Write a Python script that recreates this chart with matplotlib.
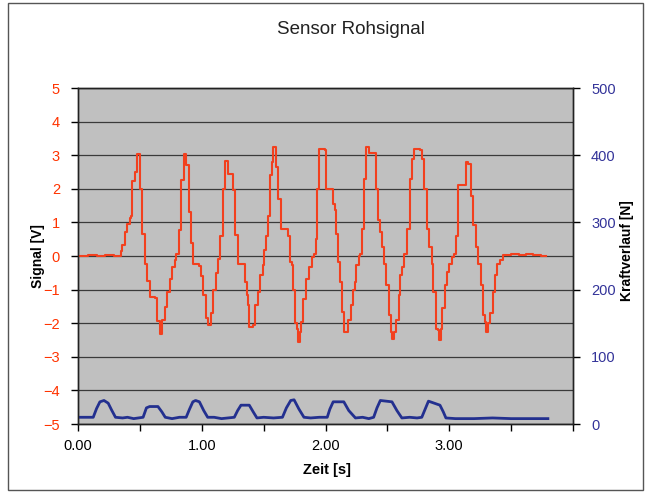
import matplotlib
matplotlib.use("Agg")
import matplotlib.pyplot as plt
from matplotlib.patches import Rectangle
from matplotlib.ticker import FixedLocator

plt.rcParams['font.family'] = ['Liberation Sans', 'DejaVu Sans']

# === Rohsignal: Zeit [s] -> Signal [V] (Stufen, Wert gilt ab dem Zeitpunkt) ===
sig_t = [0.01, 0.08, 0.15, 0.22, 0.29,
         0.351, 0.359, 0.378, 0.397, 0.418, 0.432, 0.440, 0.458, 0.477, 0.499,
         0.520, 0.539, 0.558, 0.579, 0.620, 0.641, 0.660, 0.681, 0.700, 0.719,
         0.740, 0.761, 0.780, 0.794, 0.815, 0.834, 0.853, 0.874, 0.893, 0.914,
         0.933, 0.981, 0.995, 1.014, 1.035, 1.054, 1.075, 1.094, 1.116, 1.134,
         1.150, 1.169, 1.191, 1.209, 1.250, 1.272, 1.290, 1.352, 1.362, 1.376,
         1.384, 1.416, 1.432, 1.451, 1.472, 1.491, 1.504, 1.518, 1.539, 1.553,
         1.571, 1.579, 1.598, 1.617, 1.638, 1.700, 1.714, 1.727, 1.740, 1.754,
         1.773, 1.781, 1.794, 1.805, 1.818, 1.840, 1.866, 1.888, 1.907, 1.920,
         1.933, 1.947, 1.992, 2.000, 2.062, 2.075, 2.086, 2.102, 2.116, 2.134,
         2.148, 2.185, 2.205, 2.222, 2.236, 2.247, 2.269, 2.282, 2.296, 2.314,
         2.328, 2.349, 2.408, 2.424, 2.443, 2.456, 2.475, 2.491, 2.510, 2.529,
         2.537, 2.556, 2.572, 2.590, 2.604, 2.622, 2.638, 2.657, 2.679, 2.697,
         2.719, 2.764, 2.778, 2.799, 2.818, 2.840, 2.858, 2.872, 2.891, 2.907,
         2.918, 2.934, 2.944, 2.966, 2.984, 3.001, 3.019, 3.041, 3.051, 3.067,
         3.132, 3.148, 3.172, 3.194, 3.213, 3.234, 3.253, 3.269, 3.288, 3.296,
         3.315, 3.333, 3.355, 3.373, 3.389, 3.408, 3.435, 3.50, 3.56, 3.62,
         3.68, 3.74, 3.78]
sig_v = [0.00, 0.03, 0.00, 0.04, 0.01,
         0.15, 0.32, 0.70, 0.96, 1.14, 1.19, 2.22, 2.50, 3.04, 2.00,
         0.66, -0.23, -0.75, -1.22, -1.25, -1.94, -2.31, -1.91, -1.51, -1.07,
         -0.67, -0.33, -0.13, 0.07, 0.76, 2.25, 3.05, 2.70, 1.30, 0.40,
         -0.25, -0.30, -0.60, -1.15, -1.85, -2.05, -1.70, -1.00, -0.50, -0.10,
         0.60, 2.00, 2.82, 2.45, 1.97, 0.62, -0.25, -0.77, -1.17, -1.47,
         -2.10, -2.06, -1.47, -1.07, -0.57, -0.28, 0.17, 0.61, 1.20, 2.40,
         2.80, 3.24, 2.65, 1.70, 0.81, 0.61, -0.18, -0.28, -1.02, -2.00,
         -2.16, -2.55, -2.26, -1.96, -1.27, -0.67, -0.33, -0.03, 0.07, 0.51,
         2.00, 3.19, 3.14, 2.00, 1.55, 1.36, 0.66, -0.18, -0.77, -1.66,
         -2.26, -1.91, -1.47, -1.02, -0.77, -0.28, 0.00, 0.07, 0.81, 2.30,
         3.24, 3.07, 2.00, 1.06, 0.71, 0.27, -0.23, -0.87, -1.76, -2.26,
         -2.46, -2.26, -1.91, -1.17, -0.57, -0.33, 0.07, 0.81, 2.30, 2.90,
         3.19, 3.14, 2.90, 2.00, 0.81, 0.27, -0.23, -1.07, -2.16, -2.20,
         -2.50, -2.16, -1.56, -0.87, -0.48, -0.23, -0.03, 0.07, 0.61, 2.10,
         2.80, 2.74, 1.80, 0.91, 0.27, -0.23, -0.87, -1.76, -1.96, -2.26,
         -2.00, -1.71, -1.07, -0.57, -0.23, -0.13, 0.02, 0.05, 0.02, 0.06,
         0.03, 0.01, 0.01]

# === Kraftverlauf: Zeit [s] -> Kraft [N] ===
kraft_t = [0.01, 0.123, 0.150, 0.177, 0.21, 0.244, 0.271, 0.303, 0.36, 0.40,
           0.45, 0.526, 0.553, 0.579, 0.646, 0.678, 0.705, 0.76, 0.82, 0.874,
           0.901, 0.928, 0.95, 0.981, 1.016, 1.048, 1.10, 1.16, 1.263, 1.290,
           1.317, 1.384, 1.416, 1.446, 1.50, 1.58, 1.652, 1.684, 1.719, 1.746,
           1.786, 1.826, 1.88, 1.95, 2.014, 2.035, 2.062, 2.148, 2.188, 2.242,
           2.30, 2.35, 2.389, 2.416, 2.443, 2.537, 2.577, 2.617, 2.68, 2.74,
           2.778, 2.805, 2.832, 2.925, 2.952, 2.973, 3.05, 3.20, 3.35, 3.50,
           3.65, 3.797]
kraft_n = [10, 10, 23, 33, 35, 31, 21, 10, 9, 10,
           8, 10, 24, 26, 26, 18, 10, 8, 10, 10,
           22, 33, 35, 33, 20, 10, 10, 8, 10, 20,
           28, 28, 18, 9, 10, 9, 10, 24, 35, 36,
           22, 10, 9, 10, 10, 22, 33, 33, 20, 9,
           10, 8, 10, 24, 35, 33, 20, 9, 10, 9,
           10, 22, 34, 28, 18, 9, 8, 8, 9, 8,
           8, 8]

signal_ticks = [-5, -4, -3, -2, -1, 0, 1, 2, 3, 4, 5]
kraft_ticks = [0, 100, 200, 300, 400, 500]
zeit_ticks = [0, 1, 2, 3]
zeit_labels = ['0.00', '1.00', '2.00', '3.00']

# === Figure ===
W, H = 652, 493
fig = plt.figure(figsize=(W / 100, H / 100), dpi=100)
fig.patch.set_facecolor('white')
fig.add_artist(Rectangle((8 / W, 3 / H), 635 / W, 487 / H, transform=fig.transFigure,
                         fill=False, edgecolor='#555555', linewidth=1))

ax = fig.add_axes([78 / W, 1 - 424 / H, 495 / W, 336 / H])
ax.set_facecolor('#C0C0C0')
ax.set_xlim(0, 4)
ax.set_ylim(-5, 5)
for v in signal_ticks:
    ax.axhline(v, color='#3a3a3a', linewidth=0.9, zorder=1)
ax.step(sig_t, sig_v, where='post', color='#F2401E', linewidth=1.5, zorder=3)

ax.xaxis.set_major_locator(FixedLocator(zeit_ticks))
ax.set_xticklabels(zeit_labels)
ax.xaxis.set_minor_locator(FixedLocator([0.5, 1.5, 2.5, 3.5, 4.0]))
ax.set_yticks(signal_ticks)
ax.tick_params(axis='x', which='both', direction='out', length=5, width=1,
               labelsize=10.5, colors='black', pad=6)
ax.tick_params(axis='y', direction='out', length=5, width=1, labelsize=10.5,
               labelcolor='#FF3300', pad=8)

ax2 = ax.twinx()
ax2.set_ylim(0, 500)
ax2.plot(kraft_t, kraft_n, color='#23308F', linewidth=2)
ax2.set_yticks(kraft_ticks)
ax2.tick_params(axis='y', direction='out', length=5, width=1, labelsize=10.5,
                labelcolor='#333399', pad=8)

for a in (ax, ax2):
    for s in a.spines.values():
        s.set_color('#222222')
        s.set_linewidth(1)

fig.text(351 / W, 1 - 30 / H, 'Sensor Rohsignal', ha='center', va='center',
         fontsize=13.5, color='#222222')
fig.text(327 / W, 1 - 470 / H, 'Zeit [s]', ha='center', va='center', fontsize=10.5,
         fontweight='bold')
fig.text(38 / W, 1 - 256 / H, 'Signal [V]', ha='center', va='center', rotation=90,
         fontsize=10, fontweight='bold')
fig.text(627 / W, 1 - 251 / H, 'Kraftverlauf [N]', ha='center', va='center', rotation=90,
         fontsize=10, fontweight='bold')

fig.savefig('out.png', dpi=100)
